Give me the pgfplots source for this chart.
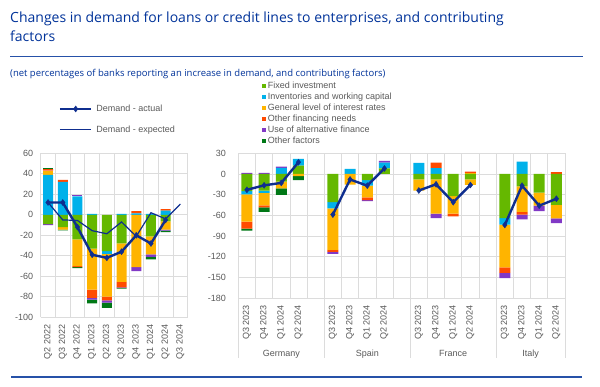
\documentclass[border=0pt]{standalone}
\usepackage{fontspec}
\setmainfont{Liberation Sans}
\newfontfamily\titlefont{Open Sans}
\usepackage{pgfplots}
\usepackage{pgfplotstable}
\pgfplotsset{compat=1.18}
\definecolor{ecbblue}{HTML}{003299}
\definecolor{lineblue}{HTML}{0F2E8F}
\definecolor{cFI}{HTML}{65B800}
\definecolor{cINV}{HTML}{00B1EA}
\definecolor{cGL}{HTML}{FFB400}
\definecolor{cOFN}{HTML}{FF4B00}
\definecolor{cUAF}{HTML}{8139C6}
\definecolor{cOF}{HTML}{007816}
\definecolor{txtgray}{HTML}{595959}
\definecolor{gridgray}{HTML}{DCDCDC}

\pgfplotstableread{
x FI INV GL OFN UAF OF
0 0 39 4.2 1.3 0 0.7
1 0 32 0 2 0 0
2 0 18 0 0 1.5 0
3 0 1 0 0 0 0
4 0 0 0 0 0 0
5 0 1 0 0 0 0
6 0 1.5 0 2 0 0
7 0 1 0 0 0 0
8 0 4 0 1.5 0 0
}\leftpos
\pgfplotstableread{
x FI INV GL OFN UAF OF
0 -9 0 0 0 -1 0
1 -12 0 -2.5 0 0 -0.7
2 -24 0 -26 -1 0 -1
3 -33 0 -40 -8 -1.7 -3.8
4 -35.5 -2.3 -42 -3.8 -2 -5.2
5 -28 0 -37.5 -5.2 -0.7 -0.6
6 0 0 -51 0 -4 0
7 -21 0 -17.7 0 -2.3 -2.5
8 -6.5 0 -8 0 -1 -1.5
}\leftneg
\pgfplotstableread{
x FI INV GL OFN UAF OF
0 0 0 0 0 1.5 0
1 0 0 0 0 1.5 0
2 0 9 0 0 1.5 0
3 12 10 0 0 0 0
5 0 0 0 0 0 0
6 0 7.5 0 0 0 0
7 0 0 0 0 0 0
8 8 8.5 0 0 2.5 0
10 0 16 0 0 0 0
11 0 8.5 0 8 0 0
12 0 0 0 0 0 0
13 0 0 1 2.5 0 0
15 0 0 0 0 0 0
16 0 18 0 0 0 0
17 0 0 0 0 0 0
18 0 0 0 2.5 0 0
}\rightpos
\pgfplotstableread{
x FI INV GL OFN UAF OF
0 -25 -4.5 -39.5 -10.5 0 -2.8
1 -24 -3.5 -18 -3 0 -6.5
2 -11 0 -10 0 0 -9.5
3 0 0 -3 0 0 -6
5 -41 -9 -60 -3 -3 0
6 0 0 -15.5 0 0 0
7 -9 -8 -17 -4 -1.5 0
8 0 0 0 0 0 0
10 -8 0 -16 0 0 0
11 -8 0 -49.6 0 -6.4 0
12 -32 0 -25.6 -4 0 0
13 -8 0 -8 0 0 0
15 -64 -9.5 -62 -8 -7.7 0
16 -18 0 -37 -4 -7 0
17 -27 0 -19 0 -8 0
18 -45 0 -19.5 0 -7 0
}\rightneg

\pgfplotsset{
  base/.style={scale only axis, /pgf/number format/assume math mode=true,
    axis line style={draw=none}, major tick length=0pt, minor tick length=0pt,
    tick style={draw=none},
    ticklabel style={font=\fontsize{9}{10}\selectfont, text=txtgray},
    grid style={draw=gridgray, line width=0.7pt},
    minor grid style={draw=gridgray, line width=0.7pt}},
  leftgeom/.style={base, at={(40.7pt,-317.3pt)}, anchor=south west,
    width=147pt, height=164pt, xmin=-0.5, xmax=9.5, ymin=-100, ymax=60},
  rightgeom/.style={base, at={(238.3pt,-298pt)}, anchor=south west,
    width=326.7pt, height=144.7pt, xmin=-0.5, xmax=18.5, ymin=-180, ymax=30},
  bFI/.style={fill=cFI, draw=none},
  bINV/.style={fill=cINV, draw=none},
  bGL/.style={fill=cGL, draw=none},
  bOFN/.style={fill=cOFN, draw=none},
  bUAF/.style={fill=cUAF, draw=none},
  bOF/.style={fill=cOF, draw=none},
  actual/.style={lineblue, line width=2.4pt, mark=diamond*, mark size=3pt,
    mark options={solid, fill=lineblue, draw=lineblue, line width=0.4pt}},
  expected/.style={lineblue, line width=1.2pt, mark=none},
}

\begin{document}
\begin{tikzpicture}
\path[use as bounding box] (0pt,0pt) rectangle (600pt,-387pt);
\node[anchor=base west, inner sep=0pt, font=\titlefont\fontsize{14}{17}\selectfont, text=ecbblue] at (10pt,-22.5pt) {Changes in demand for loans or credit lines to enterprises, and contributing};
\node[anchor=base west, inner sep=0pt, font=\titlefont\fontsize{14}{17}\selectfont, text=ecbblue] at (10pt,-42pt) {factors};
\draw[ecbblue!85, line width=1.1pt] (10pt,-56.5pt) -- (583pt,-56.5pt);
\node[anchor=base west, inner sep=0pt, font=\titlefont\fontsize{9.5}{11}\selectfont, text=ecbblue] at (10pt,-77pt) {(net percentages of banks reporting an increase in demand, and contributing factors)};
\draw[ecbblue!85, line width=1.1pt] (11pt,-377pt) -- (582pt,-377pt);

% ---------- left chart ----------
\begin{axis}[leftgeom, ybar stacked, bar width=10pt,
  ytick={-100,-80,...,60}, ymajorgrids,
  yticklabel style={inner sep=0pt, xshift=-7.4pt},
  xtick={0,...,9},
  xticklabels={Q2 2022,Q3 2022,Q4 2022,Q1 2023,Q2 2023,Q3 2023,Q4 2023,Q1 2024,Q2 2024,Q3 2024},
  xticklabel style={yshift=-7pt, rotate=90, anchor=east, inner sep=0pt},
  minor xtick={-0.5,0.5,...,9.5}, xminorgrids]
\addplot[bFI] table[x=x,y=FI]{\leftpos};
\addplot[bINV] table[x=x,y=INV]{\leftpos};
\addplot[bGL] table[x=x,y=GL]{\leftpos};
\addplot[bOFN] table[x=x,y=OFN]{\leftpos};
\addplot[bUAF] table[x=x,y=UAF]{\leftpos};
\addplot[bOF] table[x=x,y=OF]{\leftpos};
\end{axis}
\begin{axis}[leftgeom, ybar stacked, bar width=10pt, hide axis]
\addplot[bFI] table[x=x,y=FI]{\leftneg};
\addplot[bINV] table[x=x,y=INV]{\leftneg};
\addplot[bGL] table[x=x,y=GL]{\leftneg};
\addplot[bOFN] table[x=x,y=OFN]{\leftneg};
\addplot[bUAF] table[x=x,y=UAF]{\leftneg};
\addplot[bOF] table[x=x,y=OF]{\leftneg};
\end{axis}
\begin{axis}[leftgeom, hide axis,
  legend style={at={(0.123,1.304)}, anchor=north west, draw=none, fill=none,
    inner sep=0pt, outer sep=0pt, row sep=9.7pt, column sep=3.3pt,
    font=\fontsize{9}{10}\selectfont, text=txtgray,
    nodes={inner sep=0.5pt, text height=7.6pt, text depth=2.5pt}},
  legend cell align=left,
  legend image code/.code={\draw[mark repeat=2, mark phase=2, #1] plot coordinates {(0pt,0pt) (15.7pt,0pt) (31.4pt,0pt)};}]
\addplot[actual] coordinates {(0,12) (1,12) (2,-12) (3,-39) (4,-42) (5,-36) (6,-20) (7,-28) (8,-5)};
\addlegendentry{Demand - actual}
\addplot[expected] coordinates {(0,12) (1,-5) (2,-5.5) (3,-15.5) (4,-18.5) (5,-7) (6,-21) (7,2) (8,-4) (9,10.5)};
\addlegendentry{Demand - expected}
\end{axis}

% ---------- right chart ----------
\begin{axis}[rightgeom, ybar stacked, bar width=11pt, clip=false,
  ytick={-180,-150,...,30}, ymajorgrids,
  yticklabel style={inner sep=0pt, xshift=-12.3pt},
  xtick={0,1,2,3,5,6,7,8,10,11,12,13,15,16,17,18},
  xticklabels={Q3 2023,Q4 2023,Q1 2024,Q2 2024,Q3 2023,Q4 2023,Q1 2024,Q2 2024,Q3 2023,Q4 2023,Q1 2024,Q2 2024,Q3 2023,Q4 2023,Q1 2024,Q2 2024},
  xticklabel style={yshift=-7pt, rotate=90, anchor=east, inner sep=0pt},
  minor xtick={-0.5,0.5,...,18.5}, xminorgrids,
  legend style={at={(0.0740,1.506)}, anchor=north west, draw=none, fill=none,
    inner sep=0pt, outer sep=0pt, row sep=0pt, column sep=1pt,
    font=\fontsize{9}{10}\selectfont, text=txtgray,
    nodes={inner sep=0.5pt, text height=7.6pt, text depth=2.5pt}},
  legend cell align=left,
  legend image code/.code={\fill[#1] (0pt,-2pt) rectangle (4pt,2pt);}]
\addplot[bFI] table[x=x,y=FI]{\rightpos};
\addlegendentry{Fixed investment}
\addplot[bINV] table[x=x,y=INV]{\rightpos};
\addlegendentry{Inventories and working capital}
\addplot[bGL] table[x=x,y=GL]{\rightpos};
\addlegendentry{General level of interest rates}
\addplot[bOFN] table[x=x,y=OFN]{\rightpos};
\addlegendentry{Other financing needs}
\addplot[bUAF] table[x=x,y=UAF]{\rightpos};
\addlegendentry{Use of alternative finance}
\addplot[bOF] table[x=x,y=OF]{\rightpos};
\addlegendentry{Other factors}
\draw[gridgray, line width=0.7pt] (axis cs:-0.5,-180) -- ++(0pt,-60pt);
\draw[gridgray, line width=0.7pt] (axis cs:4.5,-180) -- ++(0pt,-60pt);
\draw[gridgray, line width=0.7pt] (axis cs:9.5,-180) -- ++(0pt,-60pt);
\draw[gridgray, line width=0.7pt] (axis cs:14.5,-180) -- ++(0pt,-60pt);
\draw[gridgray, line width=0.7pt] (axis cs:18.5,-180) -- ++(0pt,-60pt);
\node[anchor=base, font=\fontsize{9}{10}\selectfont, text=txtgray] at ([yshift=-58.7pt]axis cs:2,-180) {Germany};
\node[anchor=base, font=\fontsize{9}{10}\selectfont, text=txtgray] at ([yshift=-58.7pt]axis cs:7,-180) {Spain};
\node[anchor=base, font=\fontsize{9}{10}\selectfont, text=txtgray] at ([yshift=-58.7pt]axis cs:12,-180) {France};
\node[anchor=base, font=\fontsize{9}{10}\selectfont, text=txtgray] at ([yshift=-58.7pt]axis cs:16.5,-180) {Italy};
\end{axis}
\begin{axis}[rightgeom, ybar stacked, bar width=11pt, hide axis]
\addplot[bFI] table[x=x,y=FI]{\rightneg};
\addplot[bINV] table[x=x,y=INV]{\rightneg};
\addplot[bGL] table[x=x,y=GL]{\rightneg};
\addplot[bOFN] table[x=x,y=OFN]{\rightneg};
\addplot[bUAF] table[x=x,y=UAF]{\rightneg};
\addplot[bOF] table[x=x,y=OF]{\rightneg};
\end{axis}
\begin{axis}[rightgeom, hide axis]
\addplot[actual] coordinates {(0,-23) (1,-16.5) (2,-13) (3,17)};
\addplot[actual] coordinates {(5,-59) (6,-8) (7,-17) (8,8)};
\addplot[actual] coordinates {(10,-24) (11,-15) (12,-41) (13,-16)};
\addplot[actual] coordinates {(15,-74) (16,-17) (17,-46) (18,-36)};
\end{axis}
\end{tikzpicture}
\end{document}
